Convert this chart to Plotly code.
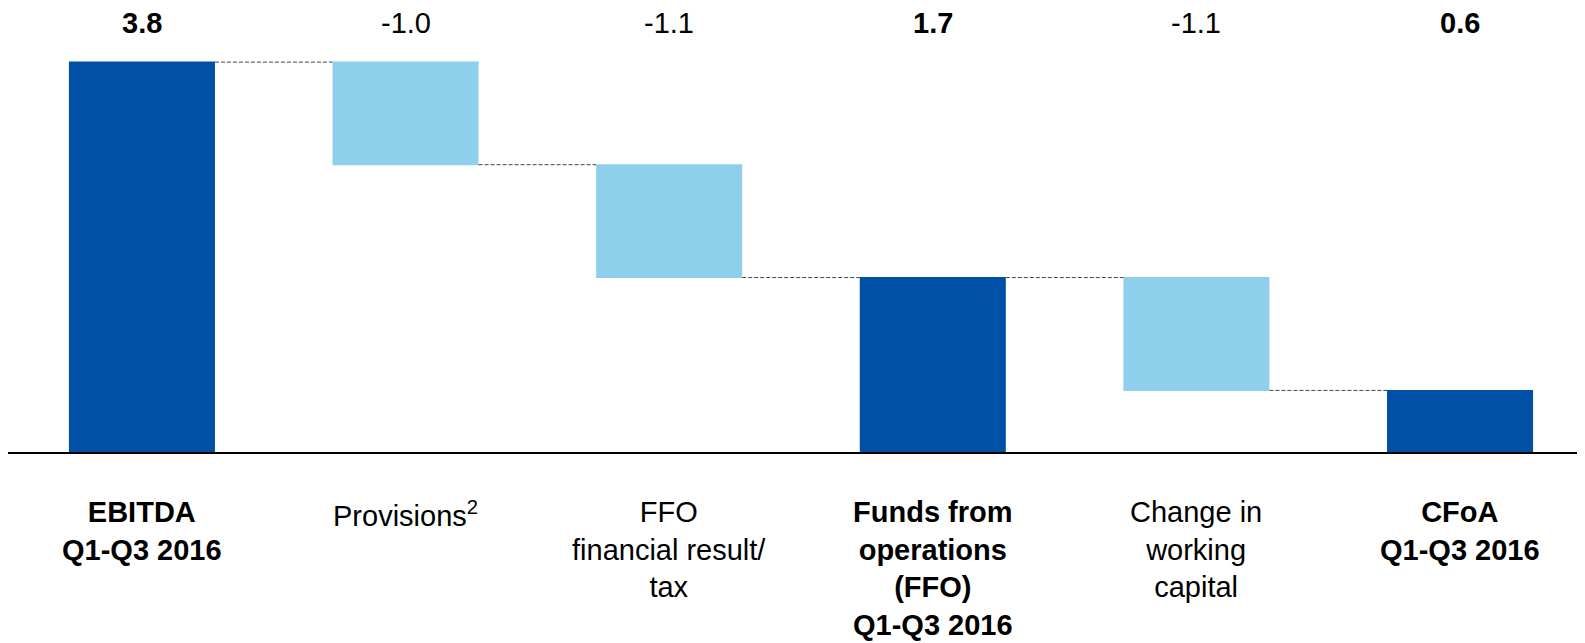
import plotly.graph_objects as go

# Waterfall: EBITDA -> FFO -> CFoA (EUR bn)
categories = [
    "<b>EBITDA<br>Q1-Q3 2016</b>",
    "Provisions<sup>2</sup>",
    "FFO<br>financial result/<br>tax",
    "<b>Funds from<br>operations<br>(FFO)<br>Q1-Q3 2016</b>",
    "Change in<br>working<br>capital",
    "<b>CFoA<br>Q1-Q3 2016</b>",
]
measures = ["absolute", "relative", "relative", "total", "relative", "total"]
values = [3.8, -1.0, -1.1, 0, -1.1, 0]

DARK = "#0050A5"
LIGHT = "#8ECFEB"
FONT = "Liberation Sans, Arial, sans-serif"

# value shown above each column (totals are the running sum)
labels = []
running = 0.0
for m, v in zip(measures, values):
    if m == "total":
        labels.append(f"<b>{running:.1f}</b>")
    else:
        running = v if m == "absolute" else running + v
        labels.append(f"<b>{v:.1f}</b>" if m == "absolute" else f"{v:.1f}")

x_idx = list(range(len(categories)))

fig = go.Figure(go.Waterfall(
    x=x_idx,
    y=values,
    measure=measures,
    width=0.554,
    base=0,
    increasing=dict(marker=dict(color=DARK)),
    decreasing=dict(marker=dict(color=LIGHT)),
    totals=dict(marker=dict(color=DARK)),
    connector=dict(mode="between", line=dict(color="#444444", width=1, dash="4px,2px")),
    textposition="none",
    hoverinfo="skip",
))

for i, (cat, lab) in enumerate(zip(categories, labels)):
    fig.add_annotation(
        x=i, y=1, xref="x", yref="paper",
        text=lab, showarrow=False,
        yanchor="middle", yshift=-15,
        font=dict(size=29, color="black", family=FONT),
    )
    fig.add_annotation(
        x=i, y=0, xref="x", yref="paper",
        text=cat, showarrow=False,
        yanchor="top", yshift=-42,
        font=dict(size=29, color="black", family=FONT),
    )

# page body has an 8px margin, so the figure is sized to fit the window
fig.update_layout(
    width=1577,
    height=635,
    margin=dict(l=0, r=0, t=0, b=191),
    plot_bgcolor="white",
    paper_bgcolor="white",
    showlegend=False,
    xaxis=dict(
        range=[-0.508, 5.474],
        showline=True, linecolor="black", linewidth=2,
        showticklabels=False, ticks="", showgrid=False, zeroline=False,
    ),
    yaxis=dict(
        range=[0, 4.327],
        visible=False, showgrid=False, zeroline=False,
    ),
)

fig.write_html("out.html")
